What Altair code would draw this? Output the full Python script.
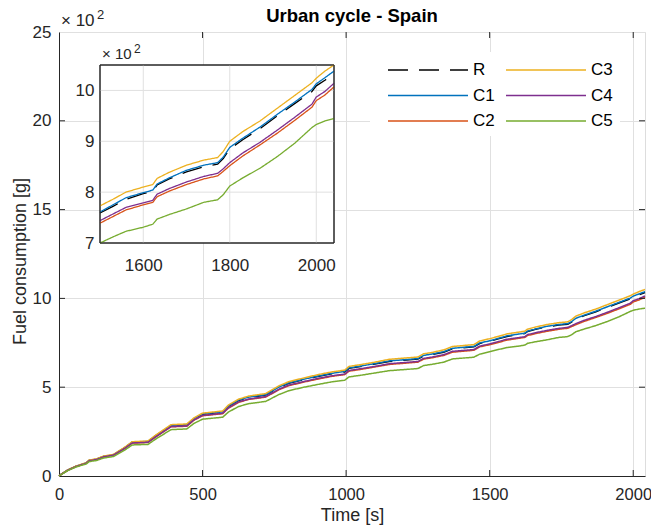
import altair as alt
import pandas as pd

# ---------------- data (values in units of 10^2 g) ----------------
times = [0, 10, 30, 60, 95, 105, 130, 155, 190, 230, 255, 310, 335, 390, 445,
         470, 500, 570, 590, 625, 660, 720, 765, 800, 850, 900, 950, 995, 1010,
         1050, 1100, 1150, 1250, 1270, 1300, 1340, 1370, 1445, 1465, 1500, 1530,
         1560, 1600, 1622, 1632, 1660, 1700, 1740, 1772, 1785, 1800, 1830, 1870,
         1910, 1950, 1990, 2000, 2020, 2041]

R = [0, 0.12, 0.33, 0.55, 0.74, 0.88, 0.94, 1.1, 1.2, 1.6,
     1.9, 1.94, 2.24, 2.84, 2.88, 3.22, 3.48, 3.6, 3.92, 4.25,
     4.42, 4.56, 4.98, 5.22, 5.42, 5.6, 5.76, 5.86, 6.06, 6.16,
     6.3, 6.45, 6.58, 6.76, 6.84, 6.97, 7.16, 7.27, 7.46, 7.59,
     7.72, 7.86, 7.97, 8.02, 8.14, 8.26, 8.4, 8.5, 8.55, 8.66,
     8.85, 9.03, 9.25, 9.5, 9.74, 9.98, 10.09, 10.2, 10.33]

C1 = [0, 0.12, 0.33, 0.55, 0.74, 0.88, 0.94, 1.1, 1.2, 1.61,
      1.91, 1.95, 2.25, 2.85, 2.89, 3.23, 3.5, 3.61, 3.94, 4.27,
      4.44, 4.58, 5.0, 5.24, 5.44, 5.62, 5.78, 5.89, 6.09, 6.19,
      6.33, 6.48, 6.61, 6.79, 6.87, 7.0, 7.19, 7.3, 7.49, 7.61,
      7.75, 7.89, 7.99, 8.04, 8.16, 8.28, 8.43, 8.53, 8.58, 8.69,
      8.88, 9.06, 9.28, 9.53, 9.77, 10.02, 10.13, 10.25, 10.38]

C2 = [0, 0.12, 0.32, 0.54, 0.72, 0.86, 0.92, 1.07, 1.17, 1.56,
      1.85, 1.89, 2.18, 2.77, 2.8, 3.14, 3.39, 3.51, 3.82, 4.14,
      4.31, 4.44, 4.85, 5.08, 5.28, 5.45, 5.61, 5.71, 5.9, 6.0,
      6.14, 6.28, 6.41, 6.58, 6.66, 6.79, 6.97, 7.08, 7.27, 7.39,
      7.52, 7.65, 7.75, 7.8, 7.91, 8.02, 8.15, 8.26, 8.32, 8.41,
      8.52, 8.71, 8.93, 9.16, 9.41, 9.67, 9.8, 9.91, 10.07]

C3 = [0, 0.12, 0.34, 0.56, 0.75, 0.9, 0.96, 1.12, 1.22, 1.63,
      1.93, 1.97, 2.28, 2.89, 2.93, 3.27, 3.54, 3.66, 3.99, 4.32,
      4.5, 4.64, 5.07, 5.31, 5.51, 5.7, 5.86, 5.96, 6.17, 6.27,
      6.41, 6.57, 6.7, 6.88, 6.96, 7.1, 7.29, 7.4, 7.6, 7.73,
      7.86, 8.0, 8.1, 8.15, 8.27, 8.39, 8.53, 8.63, 8.68, 8.8,
      9.0, 9.19, 9.4, 9.65, 9.9, 10.15, 10.24, 10.38, 10.5]

C4 = [0, 0.12, 0.32, 0.54, 0.72, 0.86, 0.92, 1.08, 1.18, 1.57,
      1.86, 1.9, 2.19, 2.78, 2.82, 3.16, 3.41, 3.53, 3.84, 4.17,
      4.33, 4.47, 4.88, 5.12, 5.31, 5.49, 5.64, 5.74, 5.94, 6.04,
      6.17, 6.32, 6.45, 6.62, 6.7, 6.83, 7.02, 7.12, 7.31, 7.44,
      7.57, 7.7, 7.79, 7.84, 7.96, 8.07, 8.2, 8.31, 8.37, 8.46,
      8.58, 8.77, 8.98, 9.22, 9.47, 9.73, 9.87, 9.98, 10.14]

C5 = [0, 0.11, 0.3, 0.51, 0.68, 0.81, 0.87, 1.01, 1.1, 1.47,
      1.75, 1.78, 2.06, 2.61, 2.65, 2.96, 3.2, 3.31, 3.6, 3.91,
      4.07, 4.2, 4.58, 4.8, 4.99, 5.15, 5.3, 5.39, 5.58, 5.67,
      5.8, 5.93, 6.05, 6.22, 6.29, 6.41, 6.59, 6.69, 6.86, 7.0,
      7.12, 7.23, 7.31, 7.37, 7.47, 7.56, 7.67, 7.8, 7.85, 7.95,
      8.12, 8.28, 8.47, 8.7, 8.96, 9.27, 9.33, 9.4, 9.45]

series_names = ["R", "C1", "C2", "C3", "C4", "C5"]
series_values = [R, C1, C2, C3, C4, C5]
colors = {"R": "#000000", "C1": "#0072BD", "C2": "#D95319",
          "C3": "#EDB120", "C4": "#7E2F8E", "C5": "#77AC30"}
dashes = {"R": [20, 11], "C1": [1, 0], "C2": [1, 0],
          "C3": [1, 0], "C4": [1, 0], "C5": [1, 0]}

title_text = "Urban cycle - Spain"
main_x_labels = [0, 500, 1000, 1500, 2000]
main_y_labels = [0, 5, 10, 15, 20, 25]
main_xticks = [500, 1000, 1500, 2000]
main_yticks = [5, 10, 15, 20]
inset_xticks = [1600, 1800, 2000]
inset_yticks = [8, 9, 10]
inset_y_labels = [7, 8, 9, 10]
x_max = 2041
inset_x_min, inset_y_min, inset_y_max = 1500, 7, 10.5

rows = []
for name, vals in zip(series_names, series_values):
    for t, v in zip(times, vals):
        rows.append({"t": t, "v": v, "s": name})
df = pd.DataFrame(rows)

FONT = "Liberation Sans"
AX = "#262626"
GRID = "#e0e0e0"
W, H = 586, 444

# ---------------- shared encodings ----------------
leg = alt.Legend(title=None, orient="none", legendX=311, legendY=20, columns=2,
                 fillColor="white", padding=7, symbolType="M0,0H8", symbolSize=400,
                 symbolStrokeWidth=1.5, labelFontSize=17, labelFont=FONT,
                 labelColor="#000000", labelOffset=74, rowPadding=6.5,
                 columnPadding=0, labelLimit=0)
color_enc = alt.Color("s:N", scale=alt.Scale(domain=series_names,
                      range=[colors[k] for k in series_names]), legend=leg)
dash_enc = alt.StrokeDash("s:N", scale=alt.Scale(domain=series_names,
                          range=[dashes[k] for k in series_names]), legend=leg)

# ---------------- main axes ----------------
mx_scale = alt.Scale(domain=[0, x_max], nice=False, zero=False)
my_scale = alt.Scale(domain=[0, 25], nice=False, zero=False)
mx_axis = alt.Axis(values=main_x_labels, format="d", title="Time [s]", grid=True,
                   gridColor=GRID, ticks=False, labelPadding=10, labelFontSize=16.5,
                   labelFont=FONT, labelColor=AX, domainColor=AX, titleFontSize=18,
                   titleFont=FONT, titleColor=AX, titleFontWeight="normal",
                   titleX=293, titleY=44, titleBaseline="alphabetic", labelFlush=False)
my_axis = alt.Axis(values=main_y_labels, format="d", title="Fuel consumption [g]",
                   grid=True, gridColor=GRID, ticks=False, labelPadding=8,
                   labelFontSize=17, labelFont=FONT, labelColor=AX, domainColor=AX,
                   titleFontSize=18, titleFont=FONT, titleColor=AX,
                   titleFontWeight="normal", titleX=-39, titleY=229, titleAngle=270,
                   titleAlign="center", titleBaseline="middle")

main_lines = alt.Chart(df).mark_line(strokeWidth=1.5).encode(
    x=alt.X("t:Q", scale=mx_scale, axis=mx_axis),
    y=alt.Y("v:Q", scale=my_scale, axis=my_axis),
    color=color_enc, strokeDash=dash_enc)

xt_df = pd.DataFrame({"t": main_xticks})
yt_df = pd.DataFrame({"v": main_yticks})
tick_bottom = alt.Chart(xt_df).mark_rule(color=AX, strokeWidth=1).encode(
    x=alt.X("t:Q", scale=mx_scale, axis=mx_axis), y=alt.value(H), y2=alt.value(H - 6))
tick_top = alt.Chart(xt_df).mark_rule(color=AX, strokeWidth=1).encode(
    x=alt.X("t:Q", scale=mx_scale, axis=mx_axis), y=alt.value(0), y2=alt.value(6))
tick_left = alt.Chart(yt_df).mark_rule(color=AX, strokeWidth=1).encode(
    y=alt.Y("v:Q", scale=my_scale, axis=my_axis), x=alt.value(0), x2=alt.value(6))
tick_right = alt.Chart(yt_df).mark_rule(color=AX, strokeWidth=1).encode(
    y=alt.Y("v:Q", scale=my_scale, axis=my_axis), x=alt.value(W - 6), x2=alt.value(W))

exp_df = pd.DataFrame({"a": ["\u00d7 10"], "b": ["2"], "title": [title_text]})
main_exp = alt.Chart(exp_df).mark_text(align="left", baseline="alphabetic",
                                       fontSize=17, font=FONT, color=AX).encode(
    text="a:N", x=alt.value(2), y=alt.value(-6))
main_exp2 = alt.Chart(exp_df).mark_text(align="left", baseline="alphabetic",
                                        fontSize=13, font=FONT, color=AX).encode(
    text="b:N", x=alt.value(38), y=alt.value(-13))
main_title = alt.Chart(exp_df).mark_text(align="center", baseline="alphabetic",
                                         fontSize=18.5, font=FONT, fontWeight="bold",
                                         color="#000000").encode(
    text="title:N", x=alt.value(W / 2), y=alt.value(-10))

main = alt.layer(main_lines, tick_bottom, tick_top, tick_left, tick_right,
                 main_exp, main_exp2, main_title)

# ---------------- inset ----------------
ix_scale = alt.Scale(domain=[inset_x_min, x_max], range=[41, 275], nice=False, zero=False)
iy_scale = alt.Scale(domain=[inset_y_min, inset_y_max], range=[211, 33], nice=False, zero=False)
ix_axis = alt.Axis(values=inset_xticks, format="d", title=None, orient="bottom",
                   offset=-233, grid=False, domain=False, ticks=False, labelPadding=14,
                   labelFontSize=17, labelFont=FONT, labelColor=AX, labelFlush=False)
iy_axis = alt.Axis(values=inset_y_labels, format="d", title=None, orient="left",
                   offset=-41, grid=False, domain=False, ticks=False, labelPadding=6,
                   labelFontSize=17, labelFont=FONT, labelColor=AX)

box_df = pd.DataFrame({"x0": [inset_x_min], "x1": [x_max],
                       "y0": [inset_y_min], "y1": [inset_y_max]})
inset_bg = alt.Chart(box_df).mark_rect(fill="white", stroke=AX, strokeWidth=1).encode(
    x=alt.X("x0:Q", scale=ix_scale, axis=ix_axis), x2="x1:Q",
    y=alt.Y("y0:Q", scale=iy_scale, axis=iy_axis), y2="y1:Q")
inset_gx = alt.Chart(pd.DataFrame({"x0": inset_xticks})).mark_rule(
    color=GRID, strokeWidth=1).encode(
    x=alt.X("x0:Q", scale=ix_scale, axis=ix_axis),
    y=alt.Y(datum=inset_y_min, scale=iy_scale, axis=iy_axis), y2=alt.datum(inset_y_max))
inset_gy = alt.Chart(pd.DataFrame({"y0": inset_yticks})).mark_rule(
    color=GRID, strokeWidth=1).encode(
    y=alt.Y("y0:Q", scale=iy_scale, axis=iy_axis),
    x=alt.X(datum=inset_x_min, scale=ix_scale, axis=ix_axis), x2=alt.datum(x_max))
inset_lines = alt.Chart(df).transform_filter(alt.datum.t >= inset_x_min).mark_line(
    strokeWidth=1.3).encode(
    x=alt.X("t:Q", scale=ix_scale, axis=ix_axis),
    y=alt.Y("v:Q", scale=iy_scale, axis=iy_axis),
    color=color_enc, strokeDash=dash_enc)
inset_border = alt.Chart(box_df).mark_rect(fillOpacity=0, stroke=AX, strokeWidth=1).encode(
    x=alt.X("x0:Q", scale=ix_scale, axis=ix_axis), x2="x1:Q",
    y=alt.Y("y0:Q", scale=iy_scale, axis=iy_axis), y2="y1:Q")
inset_exp = alt.Chart(exp_df).mark_text(align="left", baseline="alphabetic",
                                        fontSize=15, font=FONT, color=AX).encode(
    text="a:N", x=alt.value(43), y=alt.value(27))
inset_exp2 = alt.Chart(exp_df).mark_text(align="left", baseline="alphabetic",
                                         fontSize=12, font=FONT, color=AX).encode(
    text="b:N", x=alt.value(75), y=alt.value(21))

inset = alt.layer(inset_bg, inset_gx, inset_gy, inset_lines, inset_border,
                  inset_exp, inset_exp2)

chart = alt.layer(main, inset).resolve_scale(
    x="independent", y="independent"
).properties(
    width=W, height=H,
    padding={"left": 59, "top": 32, "right": 6, "bottom": 56},
    autosize=alt.AutoSizeParams(type="none"),
).configure_view(stroke=AX, strokeWidth=1).configure(background="white")

chart.save("out.html", embed_options={"renderer": "svg", "actions": False})
